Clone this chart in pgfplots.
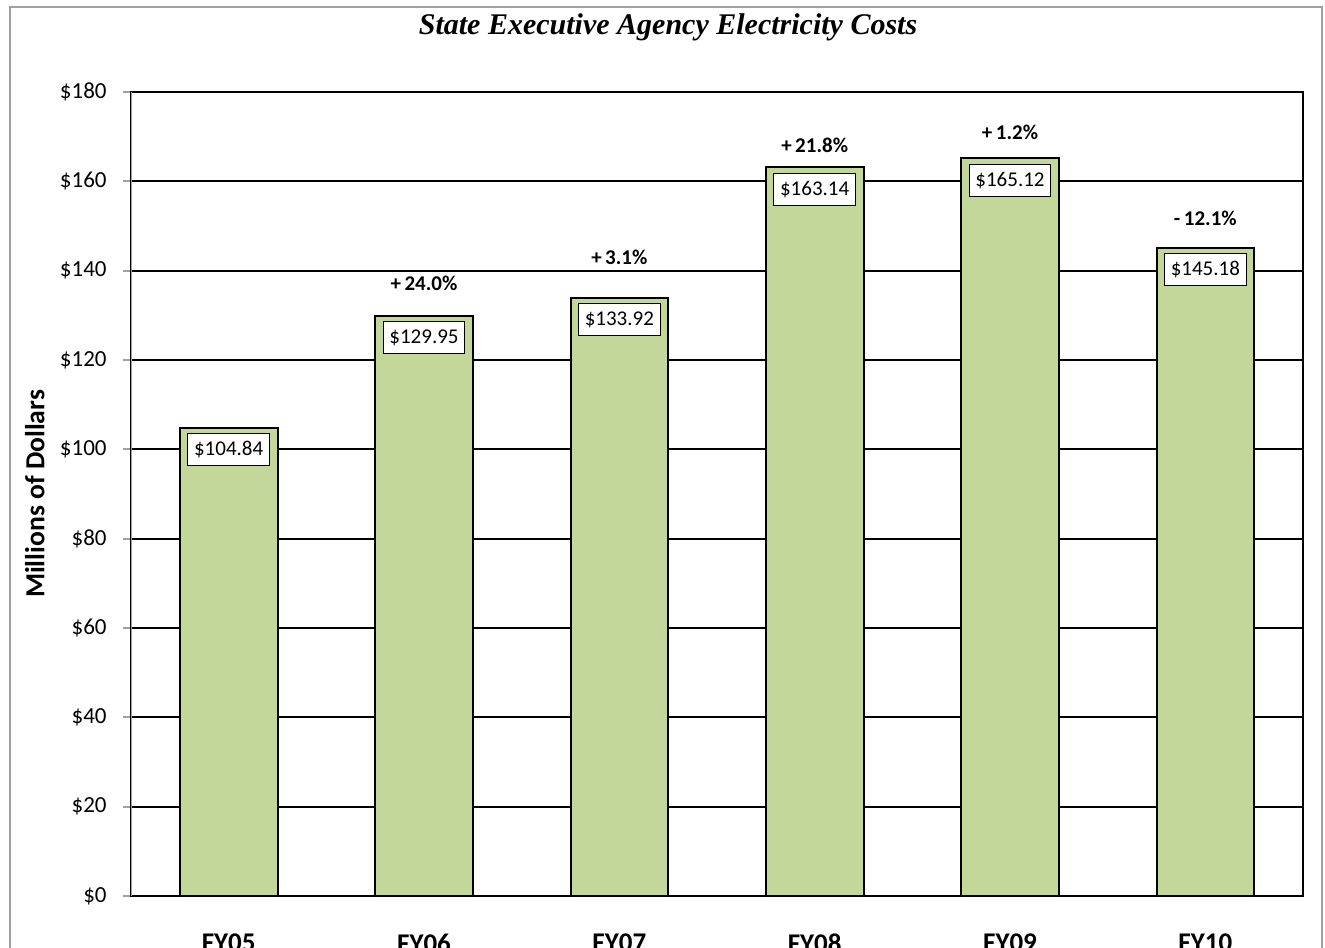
\documentclass[border=0pt]{standalone}
\usepackage{pgfplots}
\pgfplotsset{compat=1.18}
\usepackage{fontspec}
\setmainfont{Carlito}
\newfontfamily\titlefont{Liberation Serif}
\definecolor{barfill}{RGB}{196,215,155}
\definecolor{framegray}{RGB}{160,160,160}
\begin{document}
\begin{tikzpicture}
\useasboundingbox (0,0) rectangle (662.5pt,473.5pt);
\clip (0,0) rectangle (662.5pt,473.5pt);
\draw[framegray, line width=1pt] (5pt,-10pt) rectangle (661pt,470pt);
\node[font=\titlefont\bfseries\itshape\fontsize{15}{18}\selectfont] at (334pt,459.75pt) {State Executive Agency Electricity Costs};
\begin{axis}[
  at={(65.5pt,25.5pt)}, anchor=south west,
  scale only axis, width=586pt, height=402pt,
  xmin=-0.5, xmax=5.5, ymin=0, ymax=180,
  /pgf/number format/assume math mode=true,
  xtick={0,1,2,3,4,5},
  xticklabels={FY05,FY06,FY07,FY08,FY09,FY10},
  ytick={0,20,40,60,80,100,120,140,160,180},
  yticklabels={\$0,\$20,\$40,\$60,\$80,\$100,\$120,\$140,\$160,\$180},
  axis line style={black, line width=1pt},
  ymajorgrids, grid style={black, line width=1pt},
  ytick pos=left, tick align=outside, major tick length=4pt,
  ytick style={framegray, line width=1pt},
  xtick style={draw=none},
  yticklabel style={font=\fontsize{11.5}{13}\selectfont, anchor=east, inner sep=0pt, xshift=-8pt},
  xticklabel style={font=\bfseries\fontsize{13.5}{16}\selectfont, anchor=center, yshift=-19.5pt},
  ylabel={Millions of Dollars},
  ylabel style={font=\bfseries\fontsize{13.8}{16}\selectfont, at={(axis description cs:-0.082,0.5)}, anchor=center},
]
\addplot[ybar, bar width=0.5, bar shift=0pt, fill=barfill, draw=black, line width=1pt,
  point meta=y,
  nodes near coords={\$\pgfmathprintnumber[fixed,fixed zerofill,precision=2,assume math mode=true]{\pgfplotspointmeta}},
  every node near coord/.append style={anchor=center, yshift=-11pt, draw=black, line width=0.5pt, fill=white, text=black, font=\fontsize{10.5}{12}\selectfont, inner xsep=3.2pt, inner ysep=0pt, minimum height=16pt}]
  coordinates {(0,104.84) (1,129.95) (2,133.92) (3,163.14) (4,165.12) (5,145.18)};
\addplot[draw=none, mark=none, point meta=explicit symbolic, nodes near coords,
  every node near coord/.append style={anchor=center, font=\bfseries\fontsize{10.5}{12}\selectfont, inner sep=0pt, text=black}]
  coordinates {(1,137.2) [+\,24.0\%] (2,143.0) [+\,3.1\%] (3,168.1) [+\,21.8\%] (4,170.9) [+\,1.2\%] (5,151.8) [-\,12.1\%]};
\draw[framegray, line width=1pt] (rel axis cs:0,0) -- (rel axis cs:0,1);
\end{axis}
\end{tikzpicture}
\end{document}
